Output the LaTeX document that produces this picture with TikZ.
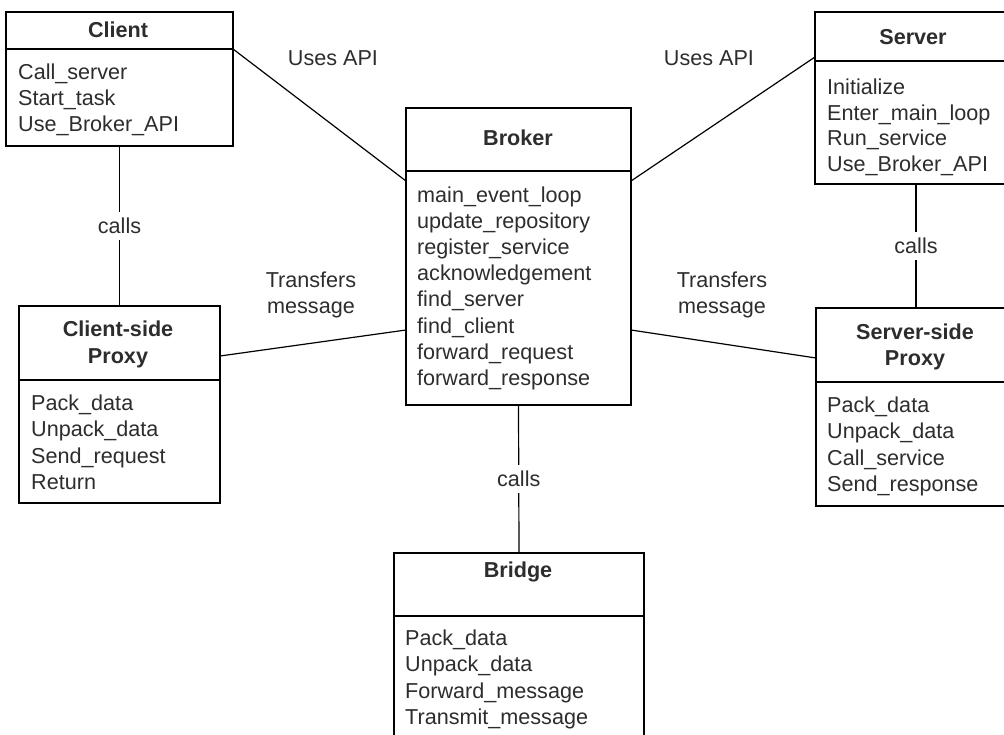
\documentclass[tikz,border=0pt]{standalone}
\usepackage{fontspec}
\setmainfont{Liberation Sans}
\definecolor{ink}{RGB}{45,45,45}
\begin{document}
\begin{tikzpicture}[x=1pt,y=-1pt,
  box/.style={draw=black, line width=1.5pt, inner sep=0pt, outer sep=0pt, anchor=north west},
  title/.style={font=\bfseries\fontsize{21.6}{26}\selectfont, text=ink, anchor=base, inner sep=0pt},
  item/.style={font=\fontsize{21.6}{26}\selectfont, text=ink, anchor=base west, inner sep=0pt},
  conn/.style={draw=black, line width=1.2pt},
  lbl/.style={font=\fontsize{21.6}{26}\selectfont, text=ink, fill=white, inner xsep=2pt, inner ysep=6pt},
  note/.style={font=\fontsize{21.6}{26}\selectfont, text=ink, anchor=base, inner sep=0pt}]
\useasboundingbox (0,0) rectangle (1004,734);
\clip (0,0) rectangle (1004,734);
\fill[white] (0,0) rectangle (1004,734);

% ---- Client ----
\node[box, minimum width=227pt, minimum height=134pt] (client) at (6,12) {};
\node[box, minimum width=227pt, minimum height=37pt] (clientT) at (6,12) {};
\node[title] (clientN) at (118,37.5) {Client};
\foreach \t [count=\i from 0] in {Call\_server,Start\_task,Use\_Broker\_API}
  \node[item] (client-\i) at (18,79.5+26.2*\i) {\t};

% ---- Server ----
\node[box, minimum width=202pt, minimum height=172pt] (server) at (815,12) {};
\node[box, minimum width=202pt, minimum height=49pt] (serverT) at (815,12) {};
\node[title] (serverN) at (913,44.5) {Server};
\foreach \t [count=\i from 0] in {Initialize,Enter\_main\_loop,Run\_service,Use\_Broker\_API}
  \node[item] (server-\i) at (827,94.5+25.6*\i) {\t};

% ---- Broker ----
\node[box, minimum width=225pt, minimum height=297pt] (broker) at (406,108) {};
\node[box, minimum width=225pt, minimum height=63pt] (brokerT) at (406,108) {};
\node[title] (brokerN) at (518,145.5) {Broker};
\foreach \t [count=\i from 0] in {main\_event\_loop,update\_repository,register\_service,acknowledgement,find\_server,find\_client,forward\_request,forward\_response}
  \node[item] (broker-\i) at (417,202.5+26.1*\i) {\t};

% ---- Client-side Proxy ----
\node[box, minimum width=201pt, minimum height=197pt] (cproxy) at (19,306) {};
\node[box, minimum width=201pt, minimum height=74pt] (cproxyT) at (19,306) {};
\node[title] (cproxyN1) at (118,336.5) {Client-side};
\node[title] (cproxyN2) at (118,363.5) {Proxy};
\foreach \t [count=\i from 0] in {Pack\_data,Unpack\_data,Send\_request,Return}
  \node[item] (cproxy-\i) at (31,410.5+26.3*\i) {\t};

% ---- Server-side Proxy ----
\node[box, minimum width=200pt, minimum height=198pt] (sproxy) at (816,308) {};
\node[box, minimum width=200pt, minimum height=74pt] (sproxyT) at (816,308) {};
\node[title] (sproxyN1) at (915,339.5) {Server-side};
\node[title] (sproxyN2) at (915,365.5) {Proxy};
\foreach \t [count=\i from 0] in {Pack\_data,Unpack\_data,Call\_service,Send\_response}
  \node[item] (sproxy-\i) at (827,412.5+26.3*\i) {\t};

% ---- Bridge ----
\node[box, minimum width=250pt, minimum height=200pt] (bridge) at (394,553) {};
\node[box, minimum width=250pt, minimum height=63pt] (bridgeT) at (394,553) {};
\node[title] (bridgeN) at (518,577.5) {Bridge};
\foreach \t [count=\i from 0] in {Pack\_data,Unpack\_data,Forward\_message,Transmit\_message}
  \node[item] (bridge-\i) at (405,645.5+26.3*\i) {\t};

% ---- Connectors ----
\draw[conn] (clientT.south east) -- ([yshift=-10pt]brokerT.south west);
\draw[conn] ([yshift=4pt]serverT.south west) -- ([yshift=-10pt]brokerT.south east);
\draw[conn] ([yshift=-13pt]cproxyT.east) -- ([yshift=-159pt]brokerT.south west);
\draw[conn] ([yshift=-159pt]brokerT.south east) -- ([yshift=-13pt]sproxyT.west);
\draw[conn] (client.south) -- node[lbl] (callsA) {calls} (cproxy.north);
\draw[conn] (server.south) -- node[lbl] (callsB) {calls} (sproxy.north);
\draw[conn] (broker.south) -- node[lbl] (callsC) {calls} (bridge.north);

% ---- Connector labels ----
\node[note] (usesA) at (333,65.5) {Uses API};
\node[note] (usesB) at (709,65.5) {Uses API};
\node[note] (transA1) at (311,287.5) {Transfers};
\node[note] (transA2) at (311,313) {message};
\node[note] (transB1) at (722,287.5) {Transfers};
\node[note] (transB2) at (722,313) {message};
\end{tikzpicture}
\end{document}
